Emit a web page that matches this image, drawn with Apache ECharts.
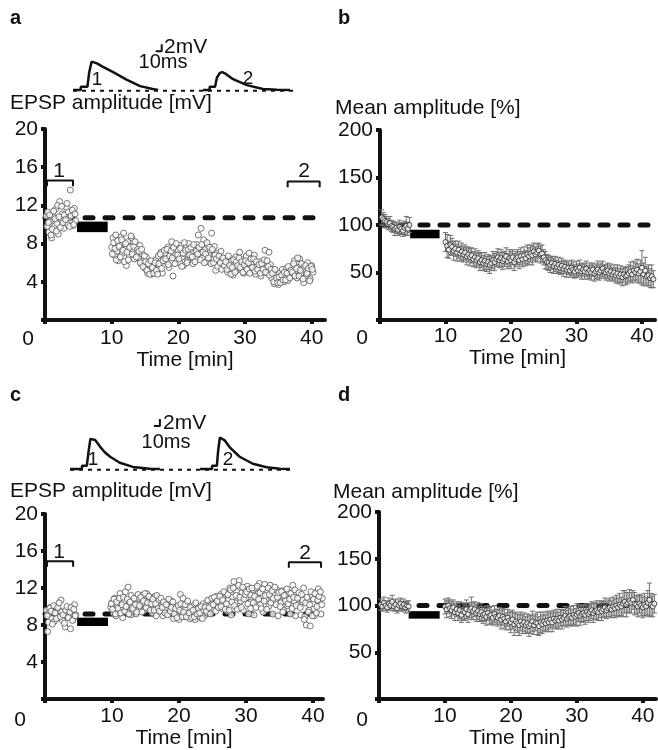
<!DOCTYPE html>
<html><head><meta charset="utf-8">
<script src="https://cdn.jsdelivr.net/npm/echarts@6/dist/echarts.min.js"></script>
<style>html,body{margin:0;padding:0;background:#fff}#c{width:658px;height:750px}</style>
</head><body><div id="c"></div>
<script>
// ---------- DATA ----------
// Panel a: EPSP amplitude [mV], single cell; two interleaved sample sets (every 0.2 min, offset 0.1 min)
const aEarlyStart = 0.2, aEarlyStartB = 0.3, aLateStart = 10.0, aLateStartB = 10.1, scatterStep = 0.2;
const aEarly = [10.9, 11.3, 9.2, 10.4, 8.6, 10.8, 9.8, 11.6, 10.1, 9.0, 12.4, 10.6, 11.1, 9.6, 10.3, 11.8, 10.0, 10.7, 13.6, 11.2, 9.9, 11.7, 10.4];
const aEarlyB = [9.8, 10.2, 11.0, 8.9, 9.5, 11.4, 10.6, 9.3, 12.0, 10.8, 9.7, 11.9, 10.2, 11.0, 10.5, 12.2, 11.3, 9.8, 10.9, 11.5, 10.0, 11.1];
const aLate = [
 7.6, 8.6, 6.8, 8.9, 7.2,  6.2, 7.9, 8.7, 7.0, 9.1,  7.4, 5.7, 8.2, 6.8, 7.7,  8.6, 7.3, 6.4, 7.9, 7.1,
 6.5, 7.8, 5.9, 6.9, 6.2,  5.4, 6.6, 4.9, 5.8, 5.1,  4.8, 5.6, 5.0, 6.3, 5.3,  6.7, 5.6, 7.1, 4.9, 6.4,
 7.0, 6.1, 7.6, 5.5, 6.8,  8.2, 4.6, 6.9, 7.4, 6.2,  7.3, 6.0, 7.8, 6.6, 5.7,  6.9, 7.7, 6.2, 8.0, 6.6,
 7.2, 5.9, 7.5, 6.4, 7.9,  8.9, 7.0, 9.6, 6.5, 8.4,  7.4, 6.1, 7.8, 6.8, 7.3,  9.1, 6.4, 7.7, 5.2, 7.0,
 6.3, 5.8, 7.2, 5.5, 6.1,  5.6, 6.4, 5.0, 6.0, 5.4,  6.2, 4.7, 5.8, 6.6, 5.2,  5.9, 7.1, 5.3, 6.3, 4.9,
 5.5, 6.7, 5.1, 7.0, 5.8,  6.0, 5.3, 6.8, 4.8, 5.7,  5.2, 6.1, 4.6, 5.6, 5.0,  7.3, 5.4, 4.9, 7.1, 5.8,
 4.4, 5.1, 3.8, 4.7, 4.2,  3.7, 4.9, 4.3, 5.3, 4.0,  4.6, 5.4, 4.1, 5.0, 4.5,  5.6, 4.8, 6.2, 5.2, 4.4,
 5.5, 6.4, 4.9, 5.8, 3.9,  5.3, 4.7, 6.0, 5.1, 4.3,  5.7, 5.0];
const aLateB = [
 6.9, 8.1, 7.5, 6.3, 8.3,  7.7, 6.6, 8.4, 7.3, 6.1,  8.0, 7.1, 6.3, 7.6, 8.8,  6.9, 7.7, 8.2, 6.6, 7.4,
 7.2, 6.0, 7.4, 5.6, 6.7,  6.1, 5.2, 5.9, 4.8, 6.2,  5.5, 4.9, 6.0, 5.2, 4.8,  5.9, 6.9, 5.4, 6.2, 7.3,
 6.4, 7.4, 5.8, 6.7, 7.2,  6.5, 7.6, 5.9, 8.0, 6.8,  6.4, 7.5, 5.6, 7.0, 8.1,  7.3, 6.0, 7.4, 6.8, 7.6,
 6.6, 7.9, 6.1, 7.2, 6.9,  7.6, 6.3, 7.9, 7.1, 6.0,  6.9, 8.1, 6.5, 7.6, 5.9,  7.4, 6.0, 6.8, 6.4, 5.6,
 6.7, 6.0, 5.3, 6.5, 5.7,  6.1, 5.3, 6.7, 5.7, 4.8,  5.5, 6.3, 5.0, 6.1, 5.7,  6.5, 5.5, 6.1, 5.0, 5.8,
 6.2, 5.3, 6.0, 4.9, 6.4,  5.5, 6.4, 5.1, 6.1, 5.3,  5.8, 4.9, 5.9, 5.3, 6.3,  5.0, 6.2, 5.6, 4.7, 5.3,
 4.9, 4.0, 5.3, 4.4, 3.9,  4.5, 3.9, 4.7, 4.2, 5.0,  4.2, 4.9, 5.6, 4.4, 5.2,  5.0, 5.9, 4.6, 5.4, 6.5,
 4.6, 5.2, 5.9, 4.3, 5.6,  5.7, 4.9, 5.4, 4.1, 5.6,  5.3];
const aBaseline = 10.7;              // dashed reference line [mV]
const aBar = [4.8, 9.4, 9.2, 10.3];  // black bar: t0, t1, v0, v1
const aBracket1 = [0.3, 4.2, 14.6], aBracket2 = [36.4, 41.2, 14.5]; // t0, t1, level

// Panel b: mean amplitude [%] with SEM, every 0.25 min
const bEarlyStart = 0.25, bLateStart = 10.0, meanStep = 0.25;
const bEarly    = [108, 106, 104, 103, 101, 102, 99, 98, 96, 97, 95, 98, 96, 94, 97, 99, 96, 100];
const bEarlyErr = [8, 7, 7, 6, 6, 7, 6, 6, 7, 6, 6, 7, 6, 6, 7, 10, 7, 8];
const bLate = [
 82, 78, 74, 79,  77, 73, 75, 71,  74, 70, 72, 69,  71, 67, 69, 66,  68, 64, 66, 63,  65, 61, 63, 60,
 62, 59, 61, 58,  60, 63, 61, 64,  66, 63, 65, 62,  64, 67, 62, 65,  63, 66, 61, 64,  66, 63, 67, 64,
 68, 65, 69, 67,  70, 68, 72, 69,  71, 73, 69, 70,  66, 63, 61, 60,  58, 60, 57, 59,  56, 58, 55, 57,
 54, 56, 53, 55,  52, 55, 53, 51,  54, 52, 55, 51,  53, 51, 54, 50,  52, 50, 53, 49,  51, 53, 50, 52,
 54, 51, 50, 52,  49, 51, 48, 50,  47, 49, 46, 48,  45, 48, 46, 47,  49, 51, 48, 52,  50, 53, 49, 51,
 55, 48, 52, 46,  47, 44, 46, 43];
const bLateErr = [
 10, 12, 9, 10,  9, 10, 8, 9,  9, 8, 9, 8,  8, 9, 8, 9,  8, 8, 9, 8,  8, 9, 8, 8,
 9, 8, 8, 9,  8, 9, 9, 8,  9, 8, 9, 9,  8, 9, 8, 9,  9, 8, 9, 8,  8, 9, 9, 8,
 9, 8, 10, 9,  9, 10, 9, 8,  9, 8, 9, 9,  8, 9, 8, 8,  8, 7, 8, 8,  7, 8, 7, 8,
 8, 7, 8, 7,  7, 8, 8, 7,  8, 7, 8, 8,  7, 8, 8, 7,  8, 8, 7, 8,  8, 9, 8, 8,
 8, 7, 8, 8,  8, 8, 7, 8,  8, 9, 8, 9,  9, 8, 9, 9,  9, 10, 9, 10,  10, 11, 10, 12,
 18, 12, 14, 10,  11, 10, 12, 9];
const bBaseline = 100;
const bBar = [4.6, 9.1, 86, 95];

// Panel c: EPSP amplitude [mV], single cell
const cEarlyStart = 0.2, cEarlyStartB = 0.3, cLateStart = 9.8, cLateStartB = 9.9;
const cEarly = [9.6, 7.3, 9.2, 9.9, 8.7, 9.4, 8.4, 10.0, 9.1, 8.8, 9.5, 10.7, 8.5, 9.3, 7.8, 9.0, 8.9, 9.7, 7.6, 9.2, 8.6, 10.2, 9.1];
const cEarlyB = [9.0, 8.3, 9.8, 9.5, 8.1, 10.1, 9.3, 8.7, 9.9, 10.4, 8.9, 9.4, 9.1, 8.2, 9.6, 10.0, 8.8, 9.4, 9.9, 8.5, 9.7, 9.0];
const cLate = [9.9,
 10.4, 9.3, 10.9, 9.0, 10.1,  9.6, 11.4, 9.9, 8.8, 10.6,  11.6, 9.4, 12.1, 10.2, 9.1,  10.0, 9.5, 10.8, 9.2, 10.3,
 10.9, 9.8, 11.2, 10.4, 9.6,  10.6, 11.4, 9.9, 10.8, 11.0,  9.3, 10.5, 11.1, 9.0, 10.2,  10.7, 9.6, 10.1, 9.0, 10.4,
 9.7, 10.3, 9.2, 9.9, 10.6,  9.4, 8.7, 10.0, 9.1, 9.6,  8.6, 11.3, 9.3, 10.9, 8.9,  9.8, 9.0, 10.2, 8.7, 9.5,
 9.1, 10.1, 8.6, 9.7, 9.0,  9.9, 8.8, 9.4, 10.3, 9.0,  10.1, 9.3, 10.6, 9.7, 10.4,  10.8, 9.6, 10.3, 11.1, 10.0,
 10.5, 11.3, 9.8, 10.9, 10.2,  11.4, 9.5, 10.7, 12.0, 9.1,  11.0, 12.7, 10.4, 11.6, 9.8,  12.8, 10.6, 11.5, 9.6, 11.9,
 10.9, 12.2, 9.2, 11.3, 10.5,  11.8, 9.1, 12.0, 10.7, 11.4,  12.5, 10.2, 11.1, 9.4, 12.4,  10.8, 11.6, 10.0, 12.3, 11.0,
 9.2, 11.3, 10.6, 11.8, 9.0,  11.1, 10.4, 11.7, 9.6, 10.9,  11.2, 10.1, 11.5, 9.2, 10.7,  12.3, 10.6, 9.0, 11.4, 10.2,
 11.0, 9.1, 10.5, 12.0, 8.9,  8.0, 10.8, 9.6, 7.9, 11.2,  10.3, 9.0, 11.5, 10.0, 11.9,  10.6, 9.2, 10.9];
const cLateB = [10.3,
 9.7, 10.8, 9.2, 10.5, 9.8,  10.9, 9.3, 10.2, 11.0, 9.5,  10.0, 10.8, 9.2, 10.5, 11.2,  9.8, 10.9, 10.2, 9.4, 11.3,
 10.1, 11.0, 9.4, 10.6, 11.4,  9.9, 10.4, 11.1, 9.6, 10.3,  10.8, 9.6, 10.3, 11.2, 9.8,  9.5, 10.9, 9.9, 10.5, 9.3,
 10.2, 9.1, 10.8, 9.5, 9.9,  10.5, 9.2, 9.8, 8.8, 10.1,  9.6, 10.3, 8.9, 9.4, 10.2,  8.9, 10.6, 9.3, 9.9, 8.8,
 9.6, 8.9, 10.4, 9.2, 9.8,  9.3, 10.0, 8.7, 9.6, 9.9,  9.5, 10.7, 9.9, 9.2, 10.9,  10.2, 11.0, 9.5, 10.6, 9.9,
 11.1, 10.0, 10.7, 11.6, 9.7,  10.3, 11.3, 9.6, 11.8, 10.5,  12.0, 10.1, 11.2, 9.7, 12.3,  11.0, 9.9, 12.1, 10.8, 11.3,
 11.6, 10.3, 11.9, 9.8, 12.0,  10.4, 11.1, 9.9, 12.2, 10.8,  11.5, 9.8, 11.9, 10.6, 11.2,  9.7, 12.0, 11.3, 10.4, 11.7,
 10.9, 12.1, 10.2, 11.0, 11.5,  10.0, 11.6, 9.4, 11.2, 10.6,  11.9, 10.3, 10.8, 11.4, 9.8,  11.0, 11.8, 10.1, 10.9, 11.5,
 9.9, 11.3, 10.7, 8.6, 10.4,  11.0, 9.4, 10.2, 11.6, 9.0,  10.8, 11.4, 9.3, 10.7, 11.1,  11.6, 10.2];
const cBaseline = 9.2;
const cBar = [4.8, 9.4, 7.9, 8.8];
const cBracket1 = [0.3, 4.2, 14.9], cBracket2 = [36.4, 41.2, 14.8];

// Panel d: mean amplitude [%] with SEM
const dEarlyStart = 0.25, dLateStart = 10.0;
const dEarly    = [101, 99, 103, 100, 98, 102, 100, 104, 99, 101, 97, 100, 102, 99, 101, 98, 100, 99];
const dEarlyErr = [6, 5, 6, 5, 5, 6, 5, 7, 5, 6, 5, 6, 6, 5, 6, 6, 5, 6];
const dLate = [
 99, 96, 100, 97,  95, 98, 93, 96,  92, 95, 90, 94,  93, 96, 91, 95,  97, 94, 96, 92,  94, 91, 93, 90,
 91, 88, 92, 89,  90, 87, 91, 88,  87, 89, 85, 88,  86, 83, 87, 84,  82, 85, 80, 83,  81, 79, 83, 80,
 82, 79, 81, 78,  80, 83, 79, 82,  81, 78, 82, 80,  83, 81, 84, 82,  85, 82, 86, 84,  86, 84, 87, 85,
 87, 89, 86, 88,  89, 87, 90, 88,  90, 92, 89, 91,  92, 90, 93, 91,  93, 95, 92, 94,  95, 93, 96, 94,
 96, 98, 95, 97,  98, 96, 99, 97,  100, 98, 101, 99,  102, 104, 101, 103,  105, 103, 106, 102,  101, 99, 102, 100,
 98, 101, 99, 103,  106, 101, 99, 102];
const dLateErr = [
 8, 9, 8, 9,  9, 8, 9, 8,  8, 9, 8, 9,  9, 10, 9, 8,  12, 9, 8, 9,  9, 8, 9, 9,
 8, 9, 8, 9,  9, 8, 9, 8,  9, 9, 10, 9,  10, 9, 9, 10,  11, 10, 12, 10,  10, 11, 10, 10,
 10, 9, 10, 11,  10, 11, 10, 9,  12, 10, 11, 10,  10, 9, 10, 10,  9, 10, 9, 9,  10, 9, 9, 10,
 9, 10, 9, 9,  10, 9, 10, 9,  12, 9, 10, 9,  9, 10, 9, 9,  9, 9, 10, 9,  10, 9, 9, 10,
 9, 10, 9, 9,  10, 9, 10, 10,  11, 10, 12, 10,  14, 12, 13, 11,  12, 11, 10, 12,  10, 11, 10, 11,
 11, 12, 10, 13,  18, 12, 11, 10];
const dBaseline = 100;
const dBar = [4.5, 9.2, 86, 94];

// Example traces (time [ms], voltage [mV])
const traceA1 = [[0,0],[13,0],[13,0.9],[24,0.9],[27,5],[31,8.1],[34,8.3],[40,7.6],[50,6.6],[67,5.1],[90,2.9],[112,1.1],[133,0.3],[142,0]];
const traceA2 = [[217,0],[228,0],[228,0.9],[237,0.9],[240,3.5],[245,4.9],[249,5.1],[255,4.6],[267,3.1],[290,1.4],[317,0.3],[340,0.05],[362,0]];
const traceC1 = [[0,0],[20,0],[20,0.9],[28,0.9],[31,5],[34,8.6],[36,8.9],[42,8.3],[50,6.4],[58,4.8],[67,3.5],[83,1.8],[105,0.6],[133,0.05],[150,0]];
const traceC2 = [[217,0],[237,0],[237,0.9],[245,0.9],[247,5],[250,9.0],[252,9.2],[258,8.2],[267,6.1],[283,3.5],[305,1.5],[328,0.5],[350,0.1],[367,0]];
const traceSpan = [0, 367];          // dotted baseline extent [ms]
const scaleBarA = [148, 11.1];       // corner of 10 ms / 2 mV scale bar
const scaleBarC = [150, 12.3];
const scaleMs = 10, scaleMv = 2;

// ---------- BUILD ----------
const FONT = '"Liberation Sans", Arial, Helvetica, sans-serif';
const INK = '#111';
function timed(start, step, vals) { return vals.map((v, i) => [+(start + i * step).toFixed(3), v]); }
function timedErr(start, step, vals, errs) { return vals.map((v, i) => [+(start + i * step).toFixed(3), v, errs[i]]); }

function mainX(g, max, margin, nameGap) {
  return { gridIndex: g, type: 'value', min: 0, max: max, interval: 10,
    axisLine: { onZero: false, lineStyle: { color: INK, width: 4 } },
    axisTick: { show: true, length: 4, lineStyle: { color: INK, width: 4 } },
    axisLabel: { fontSize: 21, fontFamily: FONT, color: INK, margin: margin, showMaxLabel: false,
      formatter: v => (v === 0 ? '' : String(v)) },
    splitLine: { show: false },
    name: 'Time [min]', nameLocation: 'middle', nameGap: nameGap,
    nameTextStyle: { fontSize: 21, fontFamily: FONT, color: INK } };
}
function mainY(g, max, interval) {
  return { gridIndex: g, type: 'value', min: 0, max: max, interval: interval,
    axisLine: { show: true, onZero: false, lineStyle: { color: INK, width: 4 } },
    axisTick: { show: true, length: 4, lineStyle: { color: INK, width: 4 } },
    axisLabel: { fontSize: 21, fontFamily: FONT, color: INK, margin: 7,
      formatter: v => (v === 0 ? '' : String(v)) },
    splitLine: { show: false } };
}
function hiddenAxis(g, min, max) { return { gridIndex: g, type: 'value', min, max, show: false, splitLine: { show: false } }; }

function dashed(g, level, max) {
  return { type: 'line', xAxisIndex: g, yAxisIndex: g, data: [[0, level], [max, level]], symbol: 'none', z: 1,
    lineStyle: { color: INK, width: 5, type: [8, 12], cap: 'round' }, silent: true };
}
function blackBar(g, b) {
  return { type: 'custom', xAxisIndex: g, yAxisIndex: g, data: [b], z: 3,
    renderItem: (p, api) => {
      const p0 = api.coord([api.value(0), api.value(3)]);
      const p1 = api.coord([api.value(1), api.value(2)]);
      return { type: 'rect', shape: { x: p0[0], y: p0[1], width: p1[0] - p0[0], height: p1[1] - p0[1] }, style: { fill: '#000' } };
    } };
}
function bracket(g, br, drop) {
  return { type: 'line', xAxisIndex: g, yAxisIndex: g, symbol: 'none', z: 3,
    data: [[br[0], br[2] - drop], [br[0], br[2]], [br[1], br[2]], [br[1], br[2] - drop]],
    lineStyle: { color: INK, width: 2 } };
}
function scatter(g, data) {
  return { type: 'scatter', xAxisIndex: g, yAxisIndex: g, data, symbol: 'circle', symbolSize: 6, z: 5,
    itemStyle: { color: '#fff', borderColor: '#555', borderWidth: 1 } };
}
function errBars(g, data) {
  return { type: 'custom', xAxisIndex: g, yAxisIndex: g, data, z: 4,
    renderItem: (p, api) => {
      const x = api.value(0), y = api.value(1), e = api.value(2);
      const t = api.coord([x, y + e]), b = api.coord([x, y - e]);
      const st = { stroke: '#6e6e6e', lineWidth: 1 };
      return { type: 'group', children: [
        { type: 'line', shape: { x1: t[0], y1: t[1], x2: b[0], y2: b[1] }, style: st },
        { type: 'line', shape: { x1: t[0] - 2.5, y1: t[1], x2: t[0] + 2.5, y2: t[1] }, style: st },
        { type: 'line', shape: { x1: b[0] - 2.5, y1: b[1], x2: b[0] + 2.5, y2: b[1] }, style: st } ] };
    } };
}
function means(g, data) {
  return { type: 'scatter', xAxisIndex: g, yAxisIndex: g, data, symbol: 'circle', symbolSize: 5, z: 5,
    itemStyle: { color: '#fff', borderColor: '#222', borderWidth: 1 } };
}
function traceLine(g, data, extra) {
  return Object.assign({ type: 'line', xAxisIndex: g, yAxisIndex: g, data, symbol: 'none', z: 5,
    lineStyle: { color: INK, width: 2.5 } }, extra || {});
}
function dottedBase(g) {
  return { type: 'line', xAxisIndex: g, yAxisIndex: g, data: [[traceSpan[0], -0.2], [traceSpan[1], -0.2]], symbol: 'none', z: 4,
    lineStyle: { color: INK, width: 2, type: [4, 5] } };
}
function scaleBar(g, c) {
  return traceLine(g, [[c[0] - scaleMs, c[1]], [c[0], c[1]], [c[0], c[1] + scaleMv]], { lineStyle: { color: INK, width: 2 } });
}
function txt(x, y, s, size, align, bold) {
  return { type: 'text', x, y, z: 100, style: { text: s, font: (bold ? 'bold ' : '') + size + 'px ' + FONT,
    fill: INK, textAlign: align || 'left', textVerticalAlign: 'middle' } };
}

const bAll = timedErr(bEarlyStart, meanStep, bEarly, bEarlyErr).concat(timedErr(bLateStart, meanStep, bLate, bLateErr));
const dAll = timedErr(dEarlyStart, meanStep, dEarly, dEarlyErr).concat(timedErr(dLateStart, meanStep, dLate, dLateErr));
const aAll = timed(aEarlyStart, scatterStep, aEarly).concat(timed(aEarlyStartB, scatterStep, aEarlyB),
  timed(aLateStart, scatterStep, aLate), timed(aLateStartB, scatterStep, aLateB));
const cAll = timed(cEarlyStart, scatterStep, cEarly).concat(timed(cEarlyStartB, scatterStep, cEarlyB),
  timed(cLateStart, scatterStep, cLate), timed(cLateStartB, scatterStep, cLateB));

const option = {
  animation: false,
  backgroundColor: '#fff',
  grid: [
    { left: 45, top: 129, width: 280, height: 191 },
    { left: 380, top: 130, width: 275, height: 190 },
    { left: 45, top: 514, width: 278, height: 189 },
    { left: 379, top: 512, width: 277, height: 191 },
    { left: 73, top: 41, width: 220, height: 52.5 },
    { left: 70, top: 416.5, width: 220, height: 56 }
  ],
  xAxis: [ mainX(0, 42, 8, 24), mainX(1, 42, 6, 26), mainX(2, 41.5, 7, 26), mainX(3, 42, 7, 26),
           hiddenAxis(4, 0, 367), hiddenAxis(5, 0, 367) ],
  yAxis: [ mainY(0, 20, 4), mainY(1, 200, 50), mainY(2, 20, 4), mainY(3, 200, 50),
           hiddenAxis(4, -1, 14), hiddenAxis(5, -1, 15) ],
  series: [
    dashed(0, aBaseline, 42), blackBar(0, aBar), bracket(0, aBracket1, 0.6), bracket(0, aBracket2, 0.6), scatter(0, aAll),
    dashed(1, bBaseline, 42), blackBar(1, bBar), errBars(1, bAll), means(1, bAll.map(d => [d[0], d[1]])),
    dashed(2, cBaseline, 41.5), blackBar(2, cBar), bracket(2, cBracket1, 0.6), bracket(2, cBracket2, 0.6), scatter(2, cAll),
    dashed(3, dBaseline, 42), blackBar(3, dBar), errBars(3, dAll), means(3, dAll.map(d => [d[0], d[1]])),
    dottedBase(4), traceLine(4, traceA1), traceLine(4, traceA2), scaleBar(4, scaleBarA),
    dottedBase(5), traceLine(5, traceC1), traceLine(5, traceC2), scaleBar(5, scaleBarC)
  ],
  graphic: [
    txt(10, 18, 'a', 20, 'left', true), txt(338, 18, 'b', 20, 'left', true),
    txt(10, 395, 'c', 20, 'left', true), txt(338, 395, 'd', 20, 'left', true),
    txt(10, 103, 'EPSP amplitude [mV]', 21), txt(10, 491, 'EPSP amplitude [mV]', 21),
    txt(335, 108, 'Mean amplitude [%]', 21), txt(333, 492, 'Mean amplitude [%]', 21),
    txt(164, 47, '2mV', 21), txt(163, 62, '10ms', 20, 'center'),
    txt(163, 423, '2mV', 21), txt(166, 442, '10ms', 20, 'center'),
    txt(97, 80, '1', 19, 'center'), txt(248, 79, '2', 19, 'center'),
    txt(93, 460, '1', 19, 'center'), txt(228, 460, '2', 19, 'center'),
    txt(59, 171, '1', 21, 'center'), txt(304, 171, '2', 21, 'center'),
    txt(59, 552, '1', 21, 'center'), txt(305, 553, '2', 21, 'center'),
    txt(28, 339, '0', 21, 'center'), txt(362, 338, '0', 21, 'center'),
    txt(20, 720, '0', 21, 'center'), txt(362, 720, '0', 21, 'center')
  ]
};
const chart = echarts.init(document.getElementById('c'), null, { renderer: 'canvas' });
chart.setOption(option);
</script>
</body></html>
